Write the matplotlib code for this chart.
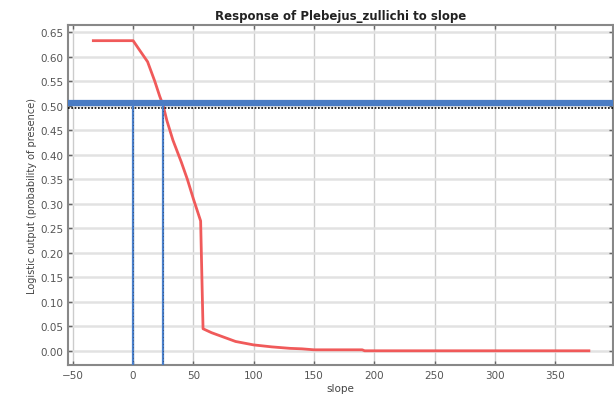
import numpy as np
import matplotlib
matplotlib.use("Agg")
import matplotlib.pyplot as plt

# response curve
slope = [-33, 0, 5, 12, 18, 22, 25, 28, 33, 40, 45, 50, 56, 57.5, 58, 65, 75, 85, 100, 115, 130, 140, 145, 150, 190, 192, 378]
prob = [0.633, 0.633, 0.615, 0.59, 0.55, 0.52, 0.50, 0.47, 0.43, 0.385, 0.35, 0.31, 0.265, 0.10, 0.045, 0.037, 0.028, 0.019, 0.012, 0.008, 0.005, 0.004, 0.003, 0.002, 0.002, 0.0, 0.0]

threshold = 0.5
x_marks = [0, 25]

fig = plt.figure(figsize=(6.14, 4.06), dpi=100)
ax = fig.add_axes([68 / 614, 40 / 406, 545 / 614, 340 / 406])

ax.plot(slope, prob, color="#f05a5a", linewidth=2, zorder=3)

# threshold lines
ax.axhline(threshold + 0.006, color="#4a7cc4", linewidth=4.5, zorder=4)
ax.axhline(threshold - 0.004, color="black", linewidth=1.2, linestyle=(0, (1, 1)), zorder=4)
for xm in x_marks:
    ax.plot([xm, xm], [-0.03, threshold], color="#4a80cc", linewidth=1.6, zorder=4)
    ax.plot([xm, xm], [-0.03, threshold], color="#333333", linewidth=0.5,
            linestyle=(0, (1, 4)), zorder=4)

ax.set_xlim(-54, 398)
ax.set_ylim(-0.029, 0.665)
ax.set_xticks(np.arange(-50, 351, 50))
ax.set_yticks(np.arange(0, 0.651, 0.05))
ax.yaxis.set_major_formatter(matplotlib.ticker.FormatStrFormatter("%.2f"))

ax.grid(True, axis="y", color="#e2e2e2", linewidth=1.8)
ax.grid(True, axis="x", color="#cccccc", linewidth=1.0)
ax.set_axisbelow(True)
for s in ax.spines.values():
    s.set_color("#888888")
    s.set_linewidth(1.5)

ax.tick_params(axis="both", direction="in", length=3, colors="#666666",
               labelcolor="#555555", labelsize=7.5, top=True, right=True, width=1)

ax.set_title("Response of Plebejus_zullichi to slope", fontsize=8.5,
             fontweight="bold", color="#222222", pad=4)
ax.set_xlabel("slope", fontsize=7.5, color="#444444", labelpad=2)
ax.set_ylabel("Logistic output (probability of presence)", fontsize=7,
              color="#444444", labelpad=2)

fig.savefig("out.png", dpi=100)
